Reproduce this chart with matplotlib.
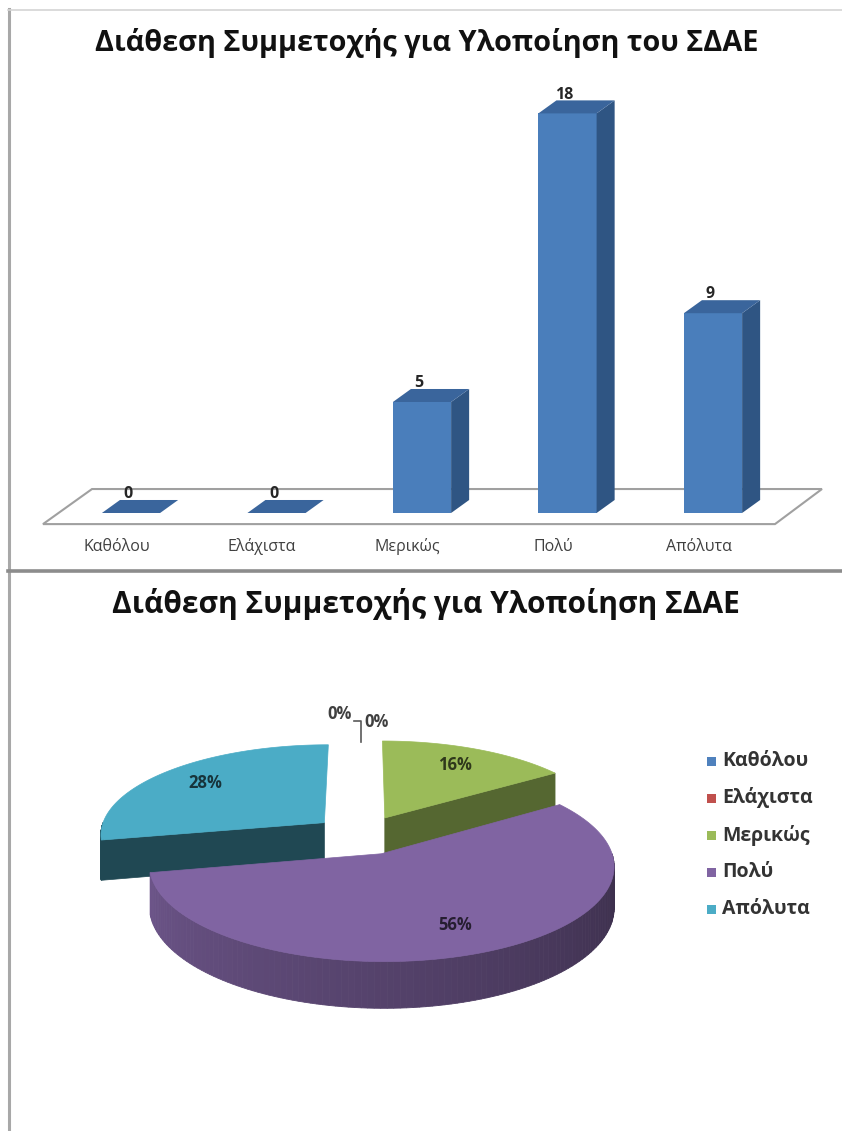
import numpy as np
import matplotlib.pyplot as plt
from matplotlib.patches import Polygon, Rectangle
from matplotlib.colors import to_rgb

# survey answers
categories = ['Καθόλου', 'Ελάχιστα', 'Μερικώς', 'Πολύ', 'Απόλυτα']
counts = [0, 0, 5, 18, 9]
bar_title = 'Διάθεση Συμμετοχής για Υλοποίηση του ΣΔΑΕ'
pie_title = 'Διάθεση Συμμετοχής για Υλοποίηση ΣΔΑΕ'
pie_colors = ['#4F81BD', '#C0504D', '#9BBB59', '#8064A2', '#4BACC6']
side_dark = [0.55, 0.55, 0.55, 0.85, 0.42]

plt.rcParams['font.family'] = ['Open Sans', 'DejaVu Sans']

W, H = 842, 1131
fig = plt.figure(figsize=(W / 100, H / 100), dpi=100)


def shade(c, f):
    return tuple(np.clip(np.array(to_rgb(c)) * f, 0, 1))


def fit_width(t, target_px):
    r = fig.canvas.get_renderer()
    w = t.get_window_extent(r).width
    t.set_fontsize(t.get_fontsize() * target_px / w)


# page frame, pixel units
frame = fig.add_axes([0, 0, 1, 1])
frame.set_xlim(0, W)
frame.set_ylim(H, 0)
frame.axis('off')
frame.plot([8.5, 8.5], [9, H], color='#a8a8a8', lw=2.2)
frame.plot([8, W], [9.5, 9.5], color='#d4d4d4', lw=1.2)
frame.plot([8, W], [571, 571], color='#8c8c8c', lw=2.6)

# ---- 3D-looking column chart ----
px_cat, x0_px = 145.5, 131
px_val, base_px = 22.2, 513
top_px, bot_px = 60, 560
bx = fig.add_axes([0, 1 - bot_px / H, 1, (bot_px - top_px) / H])
bx.set_xlim(-x0_px / px_cat, (W - x0_px) / px_cat)
bx.set_ylim((base_px - bot_px) / px_val, (base_px - top_px) / px_val)
bx.axis('off')

bw, dx, dy = 0.40, 0.124, 0.586
xs = np.arange(len(categories))

floor = Polygon([(-0.605, -0.5), (4.426, -0.5), (4.749, 1.08), (-0.268, 1.08)],
                closed=True, facecolor='white', edgecolor='#a0a0a0', lw=1.5, zorder=1)
bx.add_patch(floor)

bx.bar(xs, counts, width=bw, color='#4a7ebb', zorder=3)
for x, v in zip(xs, counts):
    l, r = x - bw / 2, x + bw / 2
    if v > 0:
        side = Polygon([(r, 0), (r + dx, dy), (r + dx, v + dy), (r, v)],
                       closed=True, facecolor='#2f5583', lw=0, zorder=3)
        bx.add_patch(side)
    top = Polygon([(l, v), (r, v), (r + dx, v + dy), (l + dx, v + dy)],
                  closed=True, facecolor='#3a659c', lw=0, zorder=4)
    bx.add_patch(top)
    bx.text(x - 0.02, v + dy - 0.1, str(v), ha='center', va='bottom',
            fontsize=11.5, fontweight='bold', color='#262626', zorder=5)
    bx.text(x - 0.1, -1.53, categories[x], ha='center', va='center',
            fontsize=11.5, color='#404040')

t1 = fig.text(427 / W, 1 - 51 / H, bar_title, ha='center', va='baseline',
              fontsize=18, fontweight='bold', color='#111111')
fit_width(t1, 665)

# ---- exploded 3D pie ----
shares = np.array(counts) / sum(counts)
cx0, cy0 = 362, 835
rx, ry, thick, persp, explode = 225, 90, 40, 0.12, 0.22


def project(u, w, z=0.0):
    s = 1 / (1 + persp * w)
    return cx0 + rx * u * s, cy0 - ry * w * s + thick * z * s


ends = np.cumsum(shares) * 360
starts = ends - shares * 360
order = np.argsort(-np.cos(np.radians((starts + ends) / 2)))
for i in order:
    if shares[i] == 0:
        continue
    a0, a1 = starts[i], ends[i]
    mid = np.radians((a0 + a1) / 2)
    ou, ow = explode * np.sin(mid), explode * np.cos(mid)
    col = pie_colors[i]

    def rim(t, z=0.0):
        t = np.radians(t)
        return project(ou + np.sin(t), ow + np.cos(t), z)

    tip_top, tip_bot = project(ou, ow, 0), project(ou, ow, 1)
    # radial cut faces turned toward the viewer
    for a, nrm in ((a0, a0 - 90), (a1, a1 + 90)):
        if np.cos(np.radians(nrm)) < 0:
            c = shade(col, side_dark[i])
            frame.add_patch(Polygon([tip_top, rim(a), rim(a, 1), tip_bot], closed=True,
                                    facecolor=c, edgecolor=c, lw=0.5, zorder=2))
    # outer wall on the front half, darker toward the right
    lo, hi = max(a0, 90), min(a1, 270)
    if hi > lo:
        ts = np.linspace(lo, hi, 120)
        for t_a, t_b in zip(ts[:-1], ts[1:]):
            f = min(0.45 + (t_a - 90) / 170 * 0.4, side_dark[i])
            c = shade(col, f)
            frame.add_patch(Polygon([rim(t_a), rim(t_b), rim(t_b, 1), rim(t_a, 1)],
                                    closed=True, facecolor=c, edgecolor=c,
                                    lw=0.6, zorder=2))
    ts = np.linspace(a0, a1, 150)
    pts = [tip_top] + [rim(t) for t in ts]
    frame.add_patch(Polygon(pts, closed=True, facecolor=col, edgecolor=col,
                            lw=0.5, zorder=3))
    lx, ly = project(ou + 0.75 * np.sin(mid), ow + 0.75 * np.cos(mid))
    frame.text(lx, ly, f'{round(shares[i] * 100)}%', ha='center', va='center',
               fontsize=12, fontweight='bold', color=shade(col, 0.3), zorder=5)

# zero slices sit at twelve o'clock, labelled outside with a leader
zx, zy = project(0, 1.0)
frame.plot([zx - 8, zx - 1, zx - 1], [zy - 34, zy - 34, zy - 13],
           color='#595959', lw=1.2, zorder=5)
zero_labels = [f'{round(shares[i] * 100)}%' for i in range(len(shares)) if shares[i] == 0]
frame.text(zx - 10, zy - 41, zero_labels[0], ha='right', va='center',
           fontsize=12, fontweight='bold', color='#404040')
frame.text(zx + 2, zy - 33, zero_labels[1], ha='left', va='center',
           fontsize=12, fontweight='bold', color='#404040')

# legend
for k, (lab, col) in enumerate(zip(categories, pie_colors)):
    yc = 761 + k * 37
    frame.add_patch(Rectangle((707, yc - 4.5), 9, 9, facecolor=col, lw=0))
    frame.text(722, yc, lab, ha='left', va='center', fontsize=14,
               fontweight='bold', color='#333333')

t2 = fig.text(426 / W, 1 - 613 / H, pie_title, ha='center', va='baseline',
              fontsize=18, fontweight='bold', color='#111111')
fit_width(t2, 628)

fig.savefig('out.png', dpi=100)
